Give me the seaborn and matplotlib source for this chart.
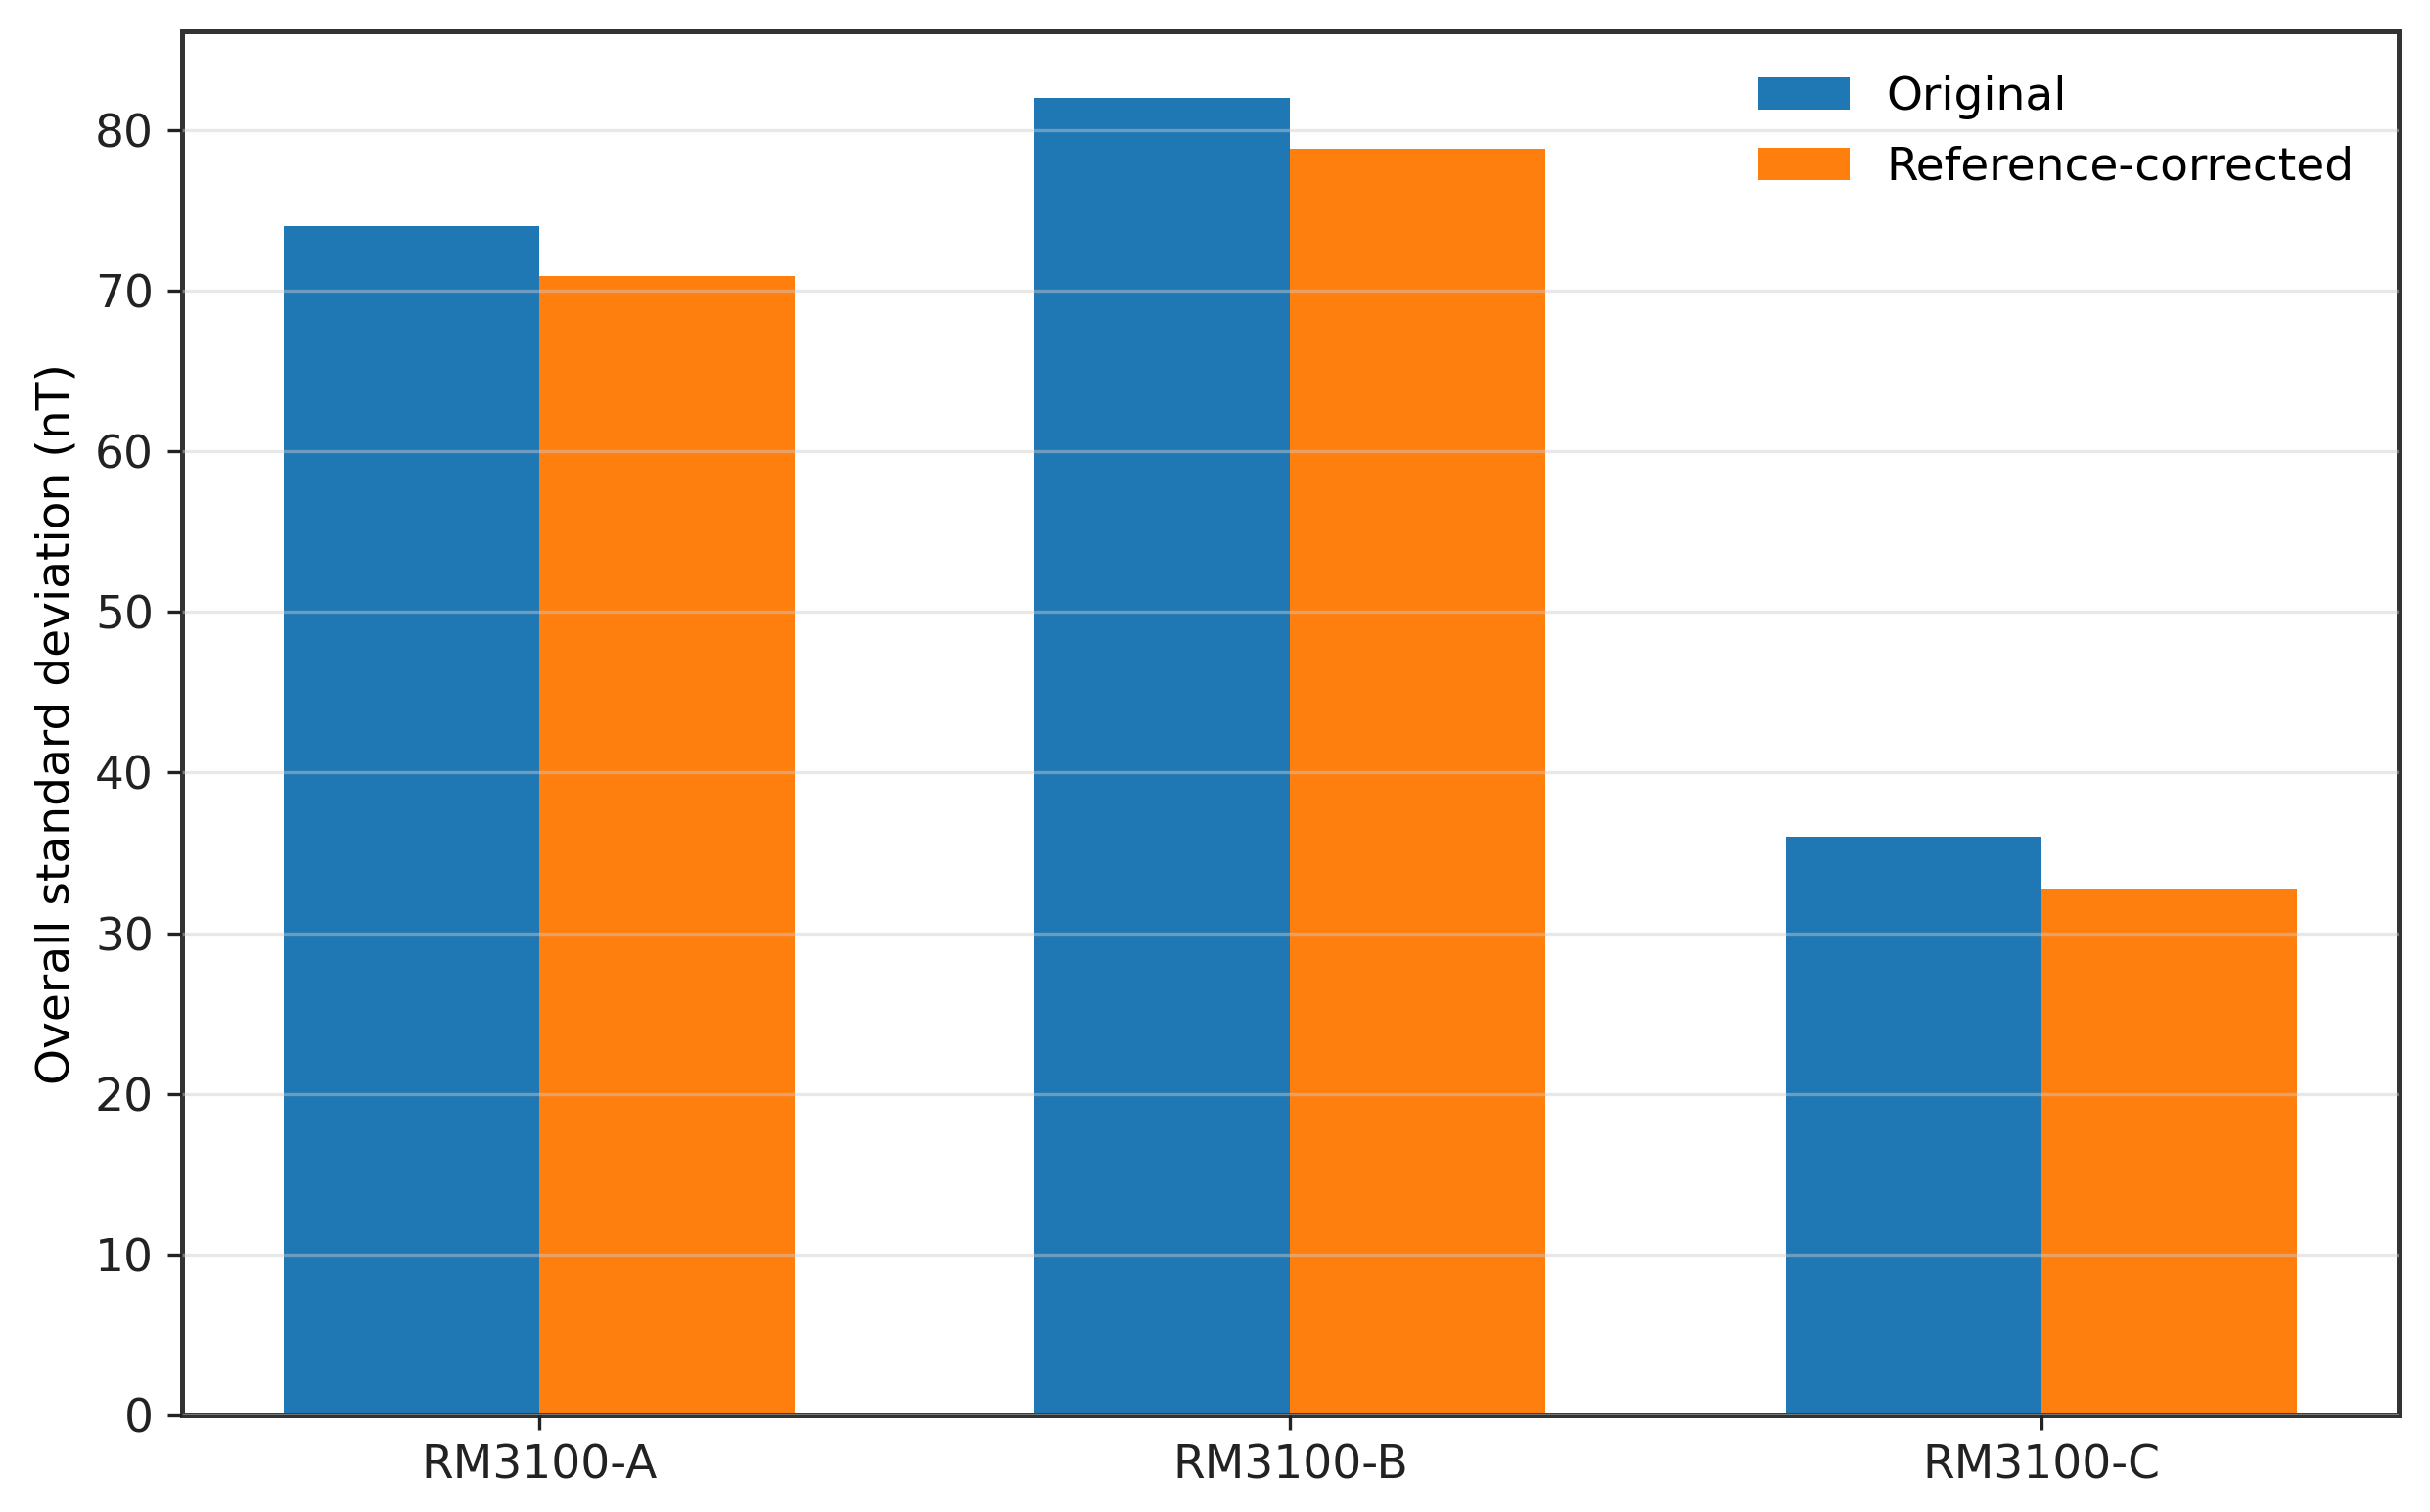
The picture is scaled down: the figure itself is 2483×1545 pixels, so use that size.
import pandas as pd
import matplotlib
matplotlib.use('Agg')
import matplotlib.pyplot as plt
import seaborn as sns

# values
sensors = ['RM3100-A', 'RM3100-B', 'RM3100-C']
original = [74.0, 82.0, 36.0]
ref_corrected = [70.9, 78.8, 32.8]
series_names = ['Original', 'Reference-corrected']

df = pd.DataFrame({
    'Sensor': sensors * 2,
    'Std': original + ref_corrected,
    'Series': [series_names[0]] * len(sensors) + [series_names[1]] * len(sensors),
})

plt.rcParams['font.family'] = ['DejaVu Sans']
plt.rcParams['font.size'] = 11.3

fig, ax = plt.subplots(figsize=(2483 / 300, 1545 / 300), dpi=300)
fig.subplots_adjust(left=0.075, right=0.987, top=0.979, bottom=0.064)

sns.barplot(data=df, x='Sensor', y='Std', hue='Series',
            palette=['#1f77b4', '#ff7f0e'], width=0.68, gap=0,
            saturation=1, ax=ax)

ax.set_axisbelow(False)
ax.yaxis.grid(True, color='#cccccc', alpha=0.45, linewidth=0.8)
ax.set_xlim(-0.475, 2.475)
ax.set_ylim(0, 86.1)
ax.set_xlabel('')
ax.set_ylabel('Overall standard deviation (nT)', fontsize=11.3)
ax.tick_params(labelsize=11.3, colors='#222222')
for s in ax.spines.values():
    s.set_color('#333333')
    s.set_linewidth(1.2)

ax.legend(loc='upper right', frameon=False, fontsize=11.3, title=None,
          labelspacing=0.56, borderaxespad=0.55)

fig.savefig('out.png', dpi=300)
